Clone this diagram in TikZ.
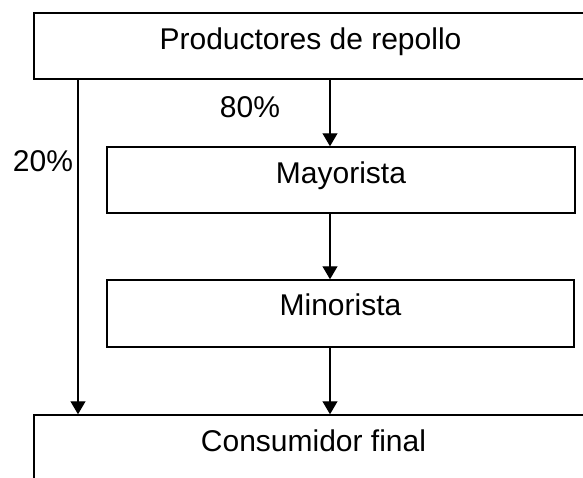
\documentclass[tikz,border=0pt]{standalone}
\usepackage{fontspec}
\setmainfont{Liberation Sans}
\usetikzlibrary{arrows.meta}
\begin{document}
\begin{tikzpicture}[x=1pt,y=-1pt,
  every node/.style={font=\fontsize{30}{36}\selectfont},
  box/.style={draw, line width=1.5pt, inner sep=0pt, text height=0.72em, text depth=0em},
  conn/.style={line width=1.2pt, -{Triangle[width=15pt,length=13pt]}},
  lbl/.style={inner sep=0pt}]
\useasboundingbox (0,0) rectangle (583,477);
\clip (0,0) rectangle (583,477);
\node[box, minimum width=553pt, minimum height=66pt] (prod) at (310.5,46) {Productores de repollo};
\node[box, minimum width=468pt, minimum height=66pt, text depth=0.05em] (may) at (341,180) {Mayorista};
\node[box, minimum width=467pt, minimum height=67pt, text depth=0.25em] (min) at (340.5,313.5) {Minorista};
\node[box, minimum width=559pt, minimum height=66pt] (cons) at (313.5,448) {Consumidor final};
\coordinate (L) at (78,0);
\coordinate (M) at (330,0);
\draw[conn] (prod.south -| L) -- (cons.north -| L);
\draw[conn] (prod.south -| M) -- (may.north -| M);
\draw[conn] (may.south -| M) -- (min.north -| M);
\draw[conn] (min.south -| M) -- (cons.north -| M);
\node[lbl] (p80) at (250,107) {80\%};
\node[lbl] (p20) at (43,161) {20\%};
\end{tikzpicture}
\end{document}
